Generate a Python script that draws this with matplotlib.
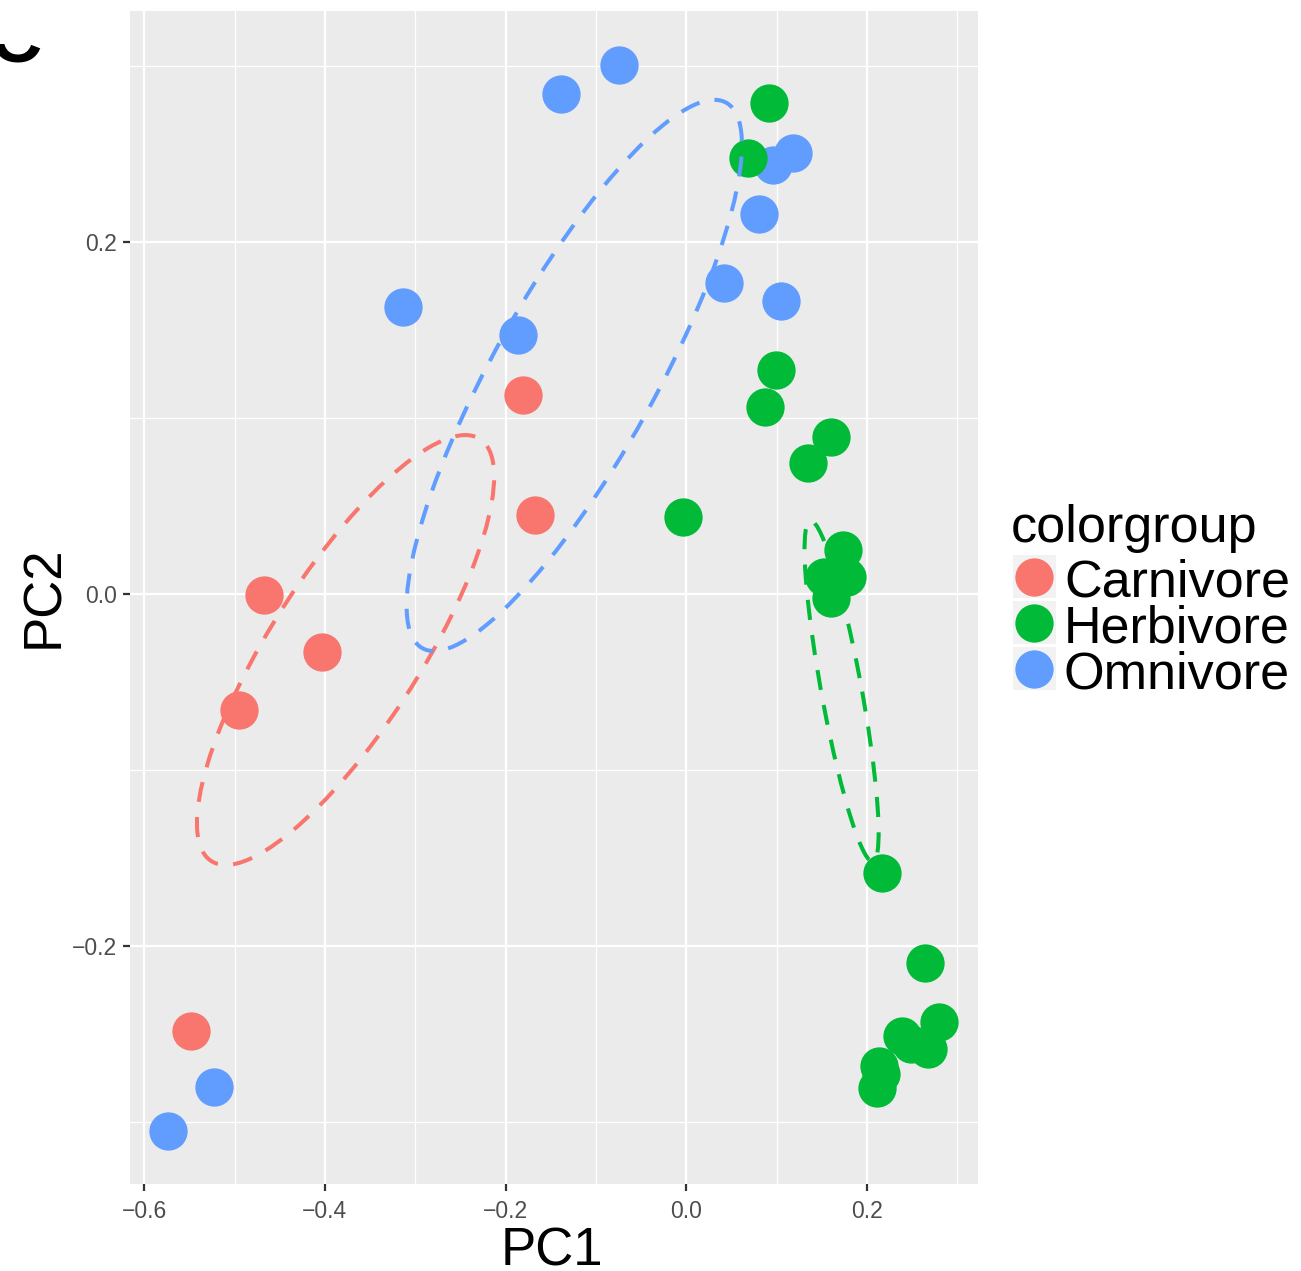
import numpy as np
import matplotlib
matplotlib.use('Agg')
import matplotlib.pyplot as plt
from matplotlib.patches import Ellipse, Rectangle
from matplotlib.transforms import Bbox

plt.rcParams['font.family'] = ['Liberation Sans', 'DejaVu Sans']

groups = ['Carnivore', 'Herbivore', 'Omnivore']
colors = ['#F8766D', '#00BA38', '#619CFF']

# PCA scores
carn_pc1 = [-0.4673, -0.4028, -0.4954, -0.1808, -0.1676, -0.5485]
carn_pc2 = [-0.0005, -0.0327, -0.0659, 0.1134, 0.0449, -0.2484]

herb_pc1 = [0.0916, 0.0679, 0.0997, 0.0875, 0.1602, 0.1343, -0.0037, 0.1731, 0.1780, 0.1520,
            0.1602, 0.2171, 0.2643, 0.2798, 0.2389, 0.2488, 0.2672, 0.2130, 0.2156, 0.2112]
herb_pc2 = [0.2793, 0.2478, 0.1274, 0.1064, 0.0894, 0.0747, 0.0436, 0.0251, 0.0099, 0.0099,
            -0.0024, -0.1588, -0.2099, -0.2433, -0.2513, -0.2558, -0.2587, -0.2683, -0.2731, -0.2810]

omni_pc1 = [-0.0742, -0.1381, -0.3131, -0.1857, 0.0413, 0.0805, 0.1044, 0.0956, 0.1177, -0.5224, -0.5733]
omni_pc2 = [0.3010, 0.2841, 0.1632, 0.1474, 0.1767, 0.2159, 0.1666, 0.2440, 0.2506, -0.2804, -0.3053]

# ellipse summaries (centre, spread on PC1/PC2, correlation), same order as groups
ell_cx = [-0.3771, 0.1720, -0.1239]
ell_cy = [-0.0318, -0.0552, 0.1243]
ell_sx = [0.1645, 0.0410, 0.1856]
ell_sy = [0.1222, 0.0969, 0.1567]
ell_r = [0.806, -0.833, 0.836]

xticks = [-0.6, -0.4, -0.2, 0.0, 0.2]
xticklabels = ['\u22120.6', '\u22120.4', '\u22120.2', '0.0', '0.2']
yticks = [-0.2, 0.0, 0.2]
yticklabels = ['\u22120.2', '0.0', '0.2']

W, H = 1301, 1271
fig = plt.figure(figsize=(W / 100, H / 100), dpi=100)
ax = fig.add_axes([130 / W, (H - 1184) / H, (978 - 130) / W, (1184 - 11) / H])
ax.set_facecolor('#EBEBEB')
for s in ax.spines.values():
    s.set_visible(False)

ax.set_xlim(-0.6157, 0.3230)
ax.set_ylim(-0.3354, 0.3315)
ax.set_xticks(xticks)
ax.set_xticklabels(xticklabels)
ax.set_yticks(yticks)
ax.set_yticklabels(yticklabels)
ax.set_xticks([-0.5, -0.3, -0.1, 0.1, 0.3], minor=True)
ax.set_yticks([-0.3, -0.1, 0.1, 0.3], minor=True)
ax.grid(which='major', color='white', linewidth=1.6)
ax.grid(which='minor', color='white', linewidth=0.9)
ax.set_axisbelow(True)
ax.tick_params(which='minor', length=0)
ax.tick_params(which='major', length=4.9, width=1.6, color='#333333',
               labelsize=16.5, labelcolor='#4D4D4D')
ax.tick_params(axis='x', pad=6.3)
ax.tick_params(axis='y', pad=4.5)

pts = {'Carnivore': (carn_pc1, carn_pc2),
       'Omnivore': (omni_pc1, omni_pc2),
       'Herbivore': (herb_pc1, herb_pc2)}
for g in ['Carnivore', 'Omnivore', 'Herbivore']:
    x, y = pts[g]
    ax.scatter(x, y, s=760, color=colors[groups.index(g)], linewidths=0, zorder=3)

for i in range(3):
    cov = np.array([[ell_sx[i] ** 2, ell_r[i] * ell_sx[i] * ell_sy[i]],
                    [ell_r[i] * ell_sx[i] * ell_sy[i], ell_sy[i] ** 2]])
    vals, vecs = np.linalg.eigh(cov)
    ang = np.degrees(np.arctan2(vecs[1, 1], vecs[0, 1]))
    e = Ellipse((ell_cx[i], ell_cy[i]), 2 * np.sqrt(vals[1]), 2 * np.sqrt(vals[0]),
                angle=ang, fill=False, edgecolor=colors[i], linewidth=2.9,
                linestyle=(0, (5, 3.8)), zorder=4)
    ax.add_patch(e)

# overlay in pixel coords for titles, legend and panel letter
lax = fig.add_axes([0, 0, 1, 1])
lax.set_xlim(0, W)
lax.set_ylim(H, 0)
lax.axis('off')
lax.patch.set_visible(False)

lax.text(552, 1265, 'PC1', fontsize=38, ha='center', va='baseline')
lax.text(58.5, 597, 'PC2', fontsize=38, rotation=90, rotation_mode='anchor',
         ha='center', va='baseline')

lax.text(1011, 541.7, 'colorgroup', fontsize=37.5, va='baseline')
for i, g in enumerate(groups):
    top = 555 + i * 46
    lax.add_patch(Rectangle((1012.7, top), 43.3, 43.3, facecolor='#F2F2F2', edgecolor='none'))
    lax.scatter([1034.3], [top + 21.6], s=760, color=colors[i], linewidths=0)
    lax.text(1064, top + 41.5, g, fontsize=37.5, va='baseline')

# panel letter, only its lower edge is inside the picture
c = lax.text(-10, 61, 'C', fontsize=52, fontweight='bold', va='baseline', ha='left')
c.set_clip_box(Bbox.from_extents(0, H - 70, 120, H - 44))
c.set_clip_on(True)

fig.savefig('out.png', dpi=100)
